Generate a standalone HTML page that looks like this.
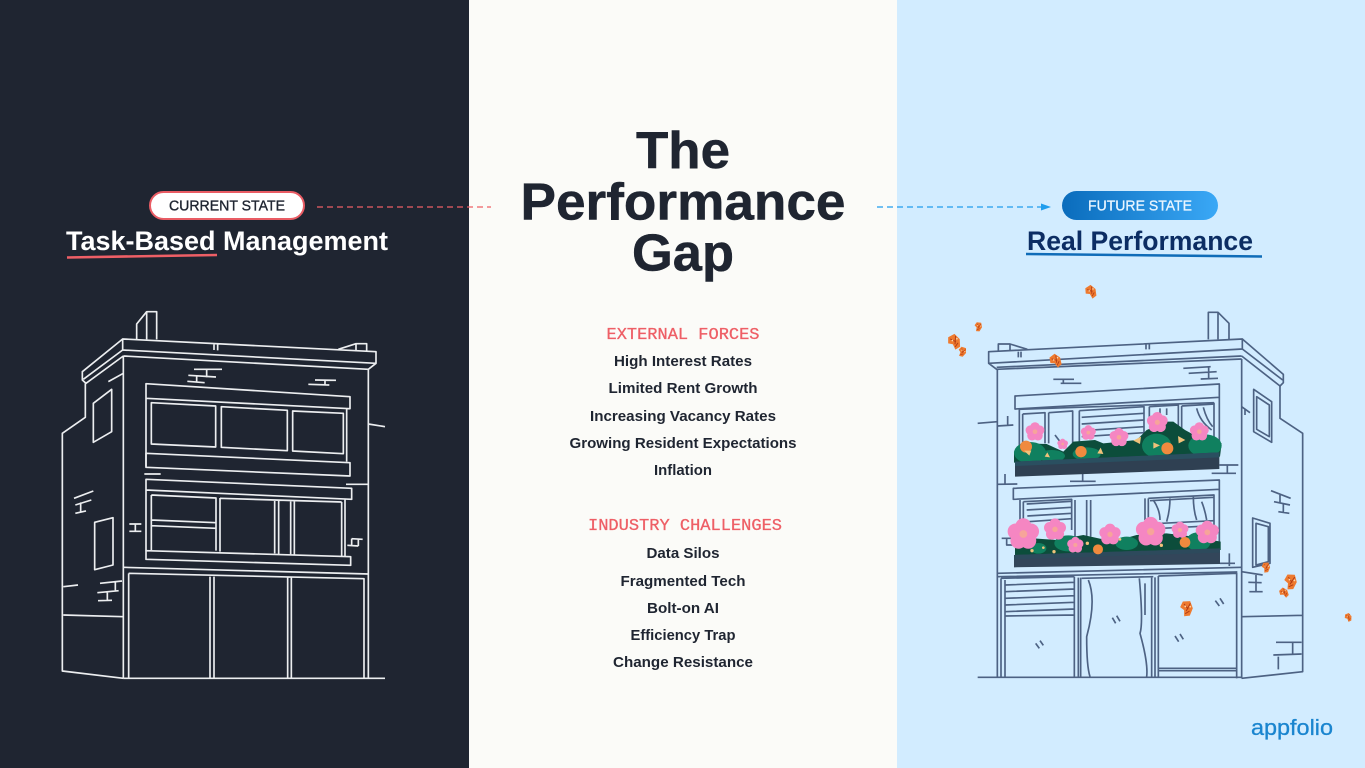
<!DOCTYPE html>
<html><head><meta charset="utf-8"><title>The Performance Gap</title>
<style>
html,body{margin:0;padding:0;width:1365px;height:768px;overflow:hidden;background:#fbfbf8}
svg{display:block}
text{font-family:"Liberation Sans",sans-serif}
.i{font-weight:700;font-size:15px;fill:#1f2531;text-anchor:middle}
.m{font-family:"Liberation Mono",monospace;font-size:17px;fill:#ee5f66;text-anchor:middle;stroke:#ee5f66;stroke-width:.3px}
.t{font-weight:700;font-size:51.500px;fill:#1f2531;text-anchor:middle;stroke:#1f2531;stroke-width:.5px}
</style></head><body>
<svg width="1365" height="768" viewBox="0 0 1365 768" xmlns="http://www.w3.org/2000/svg">
<defs>
<linearGradient id="pg" x1="0" x2="1" y1="0" y2="0"><stop offset="0" stop-color="#0a6cbc"/><stop offset="1" stop-color="#3aa8f6"/></linearGradient>
<symbol id="f" viewBox="-12 -12 24 24" overflow="visible">
<g fill="#f586c2"><circle cx="0" cy="-5.500" r="5.800"/><circle cx="5.500" cy="-1.800" r="5.800"/><circle cx="3.500" cy="4.800" r="5.800"/><circle cx="-3.500" cy="4.800" r="5.800"/><circle cx="-5.500" cy="-1.800" r="5.800"/><circle r="7"/></g>
<circle r="2.800" fill="#f7a49a"/>
</symbol>
<g id="b"><path d="M-9,-11 L4,-14 L11,-2 L8,12 L-2,15 L-4,4 L-12,0Z" fill="#ee7a2f"/><path d="M-6,-7 L3,1 M5,-10 L0,5 M-1,10 L6,4" stroke="#b23c16" stroke-width="1.800" fill="none"/><circle cx="-3" cy="-3" r="1.600" fill="#ffd7a8"/><circle cx="6" cy="-4" r="1.600" fill="#ffd7a8"/></g>
</defs>

<rect x="0" y="0" width="469" height="768" fill="#1f2531"/>
<rect x="469" y="0" width="428" height="768" fill="#fbfbf8"/>
<rect x="897" y="0" width="468" height="768" fill="#d2ecff"/>

<!-- Left header -->
<rect x="150" y="192" width="154" height="27" rx="13.500" fill="#fff" stroke="#e95c64" stroke-width="2"/>
<text x="227" y="210.500" font-size="14.500" fill="#1f2531" text-anchor="middle" textLength="116" lengthAdjust="spacingAndGlyphs" stroke="#1f2531" stroke-width=".35">CURRENT STATE</text>
<line x1="317" y1="207" x2="491" y2="207" stroke="#ee5f66" stroke-width="1.300" stroke-dasharray="6 4"/>
<text x="66" y="250" font-size="27" font-weight="700" fill="#fff" textLength="322" lengthAdjust="spacingAndGlyphs">Task-Based Management</text>
<path d="M67,257.500 L217,255" stroke="#ee5f66" stroke-width="2.600" fill="none"/>

<!-- Right header -->
<rect x="1062" y="191" width="156" height="29" rx="14.500" fill="url(#pg)"/>
<text x="1140" y="210.500" font-size="14.500" fill="#e8f5ff" text-anchor="middle" textLength="104" lengthAdjust="spacingAndGlyphs" stroke="#e8f5ff" stroke-width=".3">FUTURE STATE</text>
<line x1="877" y1="207" x2="1042" y2="207" stroke="#1f9ded" stroke-width="1.300" stroke-dasharray="6 4"/>
<path d="M1041,203.500 L1051,207 L1041,210.500Z" fill="#1f9ded"/>
<text x="1027" y="250" font-size="27" font-weight="700" fill="#0c2d63" textLength="226" lengthAdjust="spacingAndGlyphs">Real Performance</text>
<path d="M1026,254 Q1140,255 1262,256.500" stroke="#0f6cb8" stroke-width="2.600" fill="none"/>

<!-- Center -->
<text class="t" x="683" y="168" textLength="94" lengthAdjust="spacingAndGlyphs">The</text>
<text class="t" x="683" y="219.500" textLength="325" lengthAdjust="spacingAndGlyphs">Performance</text>
<text class="t" x="683" y="270.500" textLength="102" lengthAdjust="spacingAndGlyphs">Gap</text>
<text class="m" x="683" y="339" textLength="153" lengthAdjust="spacingAndGlyphs">EXTERNAL FORCES</text>
<text class="i" x="683" y="366" textLength="138" lengthAdjust="spacingAndGlyphs">High Interest Rates</text>
<text class="i" x="683" y="393" textLength="149" lengthAdjust="spacingAndGlyphs">Limited Rent Growth</text>
<text class="i" x="683" y="421" textLength="186" lengthAdjust="spacingAndGlyphs">Increasing Vacancy Rates</text>
<text class="i" x="683" y="448" textLength="227" lengthAdjust="spacingAndGlyphs">Growing Resident Expectations</text>
<text class="i" x="683" y="475" textLength="58" lengthAdjust="spacingAndGlyphs">Inflation</text>
<text class="m" x="685" y="530" textLength="194" lengthAdjust="spacingAndGlyphs">INDUSTRY CHALLENGES</text>
<text class="i" x="683" y="558" textLength="73" lengthAdjust="spacingAndGlyphs">Data Silos</text>
<text class="i" x="683" y="586" textLength="125" lengthAdjust="spacingAndGlyphs">Fragmented Tech</text>
<text class="i" x="683" y="613" textLength="72" lengthAdjust="spacingAndGlyphs">Bolt-on AI</text>
<text class="i" x="683" y="640" textLength="105" lengthAdjust="spacingAndGlyphs">Efficiency Trap</text>
<text class="i" x="683" y="667" textLength="140" lengthAdjust="spacingAndGlyphs">Change Resistance</text>

<!-- Left building -->
<g transform="translate(50,300) scale(.33333)" fill="none" stroke="#eceef0" stroke-width="5" stroke-linejoin="round">
<path d="M260,117 V72 L290,35 H320 V118 M290,35 V118"/>
<path d="M218,117 L978,155 V190 L218,150Z M492,130 V150 M503,131 V151"/>
<path d="M865,148 L918,131 H950 V152 M918,131 V150"/>
<path d="M218,117 L97,215 V240 L108,250 L220,168 M218,150 L100,238"/>
<path d="M220,168 L955,208 L978,190 M220,168 V1135 M955,208 V1133"/>
<path d="M955,372 L1005,380 M175,245 L220,220"/>
<path d="M106,250 V352 L37,400 V1113 L220,1135 M40,945 L220,950 M40,860 L84,855"/>
<path d="M130,310 L185,268 V395 L130,427Z M134,667 L189,653 V795 L134,809Z"/>
<path d="M288,251 L900,290 V326 L288,295Z M288,295 V500 M890,326 V485"/>
<path d="M304,308 L497,318 V441 L304,432Z M514,320 L712,331 V452 L514,442Z M728,333 L880,340 V461 L728,453Z"/>
<path d="M288,460 L900,488 V528 L288,502Z"/>
<path d="M283,522 H332 M888,553 H955"/>
<path d="M288,538 L905,565 V598 L288,570Z M288,570 V752 M885,598 V768"/>
<path d="M304,585 L498,594 V752 M304,585 V750 M304,660 L498,668 M304,677 L498,685 M510,594 V755 M674,600 V760 M686,600 V762 M722,602 V763 M733,603 V764 M510,595 L875,606 M875,606 V768"/>
<path d="M288,752 L902,770 V796 L288,778Z"/>
<path d="M220,802 L955,822 M236,820 L942,836 V1133 M236,820 V1135 M480,830 V1133 M492,830 V1133 M713,832 V1133 M724,833 V1133 M220,1135 H1005"/>
<path d="M432,208 H516 M412,244 L464,248 M415,226 L498,231 M470,210 V232 M440,226 V246"/>
<path d="M795,240 L858,241 M775,253 L838,255 M825,241 V254"/>
<path d="M72,595 L130,573 M76,615 L124,600 M76,640 L108,633 M92,607 V637"/>
<path d="M238,672 H274 M238,694 H274 M256,672 V694"/>
<path d="M905,716 L938,718 M892,736 L925,738 M925,718 V738 M905,716 V736"/>
<path d="M150,850 L216,843 M142,878 L206,872 M144,902 L186,901 M196,843 V872 M172,878 V901"/>
</g>

<!-- Right building -->
<g transform="translate(940,280) scale(.33333)">
<g fill="none" stroke="#4d6283" stroke-width="5" stroke-linejoin="round">
<path d="M805,178 V97 H834 L867,130 V178 M834,97 V178"/>
<path d="M146,215 L907,177 V207 L146,250Z M146,250 L170,268 L905,237 M170,262 L905,228"/>
<path d="M907,177 L1030,283 V308 L1020,318 L905,228 M907,207 L1028,300"/>
<path d="M175,212 V192 H210 L262,208 M210,192 V212 M235,215 V232 M243,215 V232 M618,190 V208 M628,190 V208"/>
<path d="M172,268 V1192 M905,237 V1195"/>
<path d="M1020,318 V415 L1088,460 V1175 L905,1195 M905,1010 L1088,1006"/>
<path d="M941,328 L995,365 V487 L941,455Z M950,350 L988,375 V470 L950,448Z"/>
<path d="M938,714 L990,730 V850 L938,862Z M948,730 L985,740 V845 L948,855Z"/>
<path d="M225,348 L838,312 V352 L225,387Z M838,352 V520"/>
<path d="M238,385 V500 M238,388 L822,368 M822,368 V480"/>
<path d="M248,402 L315,398 V490 M248,402 V490 M326,398 L398,393 V490 M326,398 V490 M418,392 L612,380 V470 M418,392 V490"/>
<path d="M425,412 L612,400 M425,432 L612,420 M425,452 L612,440 M425,470 L612,458"/>
<path d="M628,380 L715,375 V450 M628,380 V430 M725,378 L822,372 M725,378 V455 M770,385 Q780,425 815,450 M790,382 Q800,420 818,440 M660,385 V405 M680,385 V405 M345,465 L360,485"/>
<path d="M220,625 L838,600 V628 L220,658Z M838,628 V800"/>
<path d="M240,660 V750 M250,665 L395,658 V750 M250,665 V720 M260,672 L395,664 M260,690 L395,682 M262,708 L395,700 M265,725 L395,716 M405,660 V770 M440,660 V770 M452,660 V770 M615,655 V720 M625,655 V720 M625,655 L822,645 V740 M630,662 L822,652"/>
<path d="M640,660 Q660,690 660,720 M690,655 Q690,690 680,725 M760,650 Q760,690 770,720 M785,665 Q795,690 800,720 M665,730 L822,722 M665,745 L822,737"/>
<path d="M172,880 L905,862 M172,890 L892,876 M183,895 V1192 M195,900 V1192 M183,895 L403,890"/>
<path d="M195,915 L403,907 M195,935 L403,927 M195,955 L403,947 M195,975 L403,967 M195,995 L403,987 M195,1008 L403,1005 M403,890 V1192 M415,893 V1192 M425,895 L640,890 M422,893 V1192 M635,892 V1192 M645,892 V1192 M655,888 V1192 M655,888 L890,880 V1195 M655,1165 H890 M655,1172 H890 M113,1192 H905"/>
<path d="M445,900 Q470,960 440,1070 Q440,1160 450,1190 M598,895 Q610,1030 600,1060 Q625,1150 620,1190 M615,910 V1005"/>
<path d="M287,1090 L298,1105 M300,1082 L310,1096 M517,1013 L527,1030 M530,1007 L540,1024 M705,1068 L716,1085 M720,1062 L730,1078 M826,962 L838,978 M840,955 L851,972"/>
<path d="M730,265 L812,260 M746,280 L830,275 M782,297 L834,295 M806,262 V296 M340,298 H402 M362,310 H424 M370,297 V311"/>
<path d="M113,430 L172,425 M172,438 L220,435 M203,408 V436 M172,613 L232,612 M195,582 V612 M390,604 H467 M428,582 V604 M838,555 H895 M815,580 H888 M862,555 V580"/>
<path d="M905,380 L930,398 M915,388 V405 M993,632 L1052,655 M1002,665 L1050,675 M1020,645 V670 M1015,695 L1048,700 M1030,672 V696"/>
<path d="M905,875 L968,885 M925,907 L965,908 M928,935 H968 M948,885 V935 M1008,1087 H1085 M1000,1125 L1085,1122 M1058,1087 V1122 M1015,1130 V1168 M840,850 H885 M868,820 V858 M185,775 H225 M200,775 V795 L240,795"/>
</g>

<!-- foliage row 1 -->
<g fill="#0c4d3b">
<path d="M222,548 V515 L250,490 L320,492 L370,515 L400,485 L465,480 L490,490 L590,480 L620,450 L680,425 L700,425 L735,450 L790,480 L845,490 L840,530Z"/>
</g>
<g fill="#10805f">
<ellipse cx="270" cy="518" rx="48" ry="32"/><ellipse cx="335" cy="528" rx="40" ry="18"/><ellipse cx="440" cy="522" rx="42" ry="20"/><ellipse cx="650" cy="497" rx="44" ry="36"/><ellipse cx="795" cy="497" rx="50" ry="34"/>
</g>
<polygon points="225,545 838,517 838,567 225,590" fill="#2f4052"/>
<polygon points="225,545 838,517 838,532 225,558" fill="#2a4f60"/>
<!-- foliage row 2 -->
<path d="M225,830 V800 L280,775 L350,780 L430,765 L520,785 L590,765 L680,760 L760,770 L842,785 V810Z" fill="#0c4d3b"/>
<g fill="#10805f">
<ellipse cx="385" cy="790" rx="42" ry="24"/><ellipse cx="560" cy="790" rx="34" ry="20"/><ellipse cx="775" cy="785" rx="37" ry="28"/><ellipse cx="295" cy="805" rx="24" ry="16"/>
</g>
<polygon points="222,825 840,805 840,852 222,862" fill="#33465a"/>
<polygon points="222,825 840,805 840,818 222,838" fill="#2d4a5c"/>

<!-- flowers -->
<use href="#f" x="-30" y="-30" width="60" height="60" transform="translate(285,455)"/>
<use href="#f" x="-24" y="-24" width="48" height="48" transform="translate(445,458)"/>
<use href="#f" x="-30" y="-30" width="60" height="60" transform="translate(537,472)"/>
<use href="#f" x="-33" y="-33" width="66" height="66" transform="translate(652,427)"/>
<use href="#f" x="-30" y="-30" width="60" height="60" transform="translate(778,455)"/>
<use href="#f" x="-17" y="-17" width="34" height="34" transform="translate(368,492)"/>
<use href="#f" x="-50" y="-50" width="100" height="100" transform="translate(250,762)"/>
<use href="#f" x="-35" y="-35" width="70" height="70" transform="translate(345,748)"/>
<use href="#f" x="-34" y="-34" width="68" height="68" transform="translate(510,763)"/>
<use href="#f" x="-47" y="-47" width="94" height="94" transform="translate(632,755)"/>
<use href="#f" x="-27" y="-27" width="54" height="54" transform="translate(720,750)"/>
<use href="#f" x="-37" y="-37" width="74" height="74" transform="translate(802,757)"/>
<use href="#f" x="-26" y="-26" width="52" height="52" transform="translate(406,795)"/>

<!-- orange buds -->
<g fill="#f08a3e">
<circle cx="258" cy="500" r="18"/><circle cx="423" cy="515" r="17"/><circle cx="682" cy="505" r="18"/><circle cx="474" cy="808" r="15"/><circle cx="735" cy="787" r="16"/>
</g>
<g fill="#f0c27a">
<path d="M252,512 L274,512 L268,527Z M314,530 L330,532 L322,517Z M472,520 L490,522 L482,503Z M580,482 L603,470 L600,492Z M640,487 L660,496 L640,506Z M714,468 L736,480 L716,490Z"/>
<circle cx="276" cy="812" r="5"/><circle cx="342" cy="815" r="5"/><circle cx="442" cy="790" r="5"/><circle cx="664" cy="796" r="5"/><circle cx="540" cy="778" r="4"/><circle cx="310" cy="803" r="4"/>
</g>

<!-- butterflies -->
<use href="#b" transform="translate(453,35) scale(1.400) rotate(-20)"/>
<use href="#b" transform="translate(115,140) scale(1) rotate(20)"/>
<use href="#b" transform="translate(43,185) scale(1.600) rotate(-15)"/>
<use href="#b" transform="translate(67,215) scale(1.050) rotate(30)"/>
<use href="#b" transform="translate(347,242) scale(1.450) rotate(-25)"/>
<use href="#b" transform="translate(978,862) scale(1.100) rotate(10)"/>
<use href="#b" transform="translate(1052,905) scale(1.650) rotate(15)"/>
<use href="#b" transform="translate(1032,938) scale(1.100) rotate(-30)"/>
<use href="#b" transform="translate(740,985) scale(1.650) rotate(10)"/>
<use href="#b" transform="translate(1225,1012) scale(.9) rotate(-10)"/>
</g>

<!-- logo -->
<text x="1251" y="735" font-size="22" fill="#1a85cf" textLength="82" lengthAdjust="spacingAndGlyphs" stroke="#1a85cf" stroke-width=".3">appfolio</text>
</svg>
</body></html>
